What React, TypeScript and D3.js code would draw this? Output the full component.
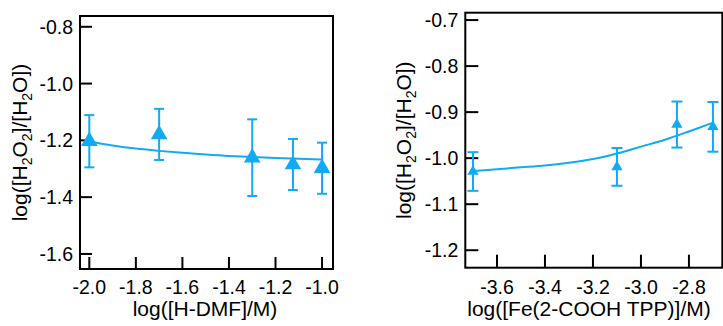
import React from "react";
import * as d3 from "d3";

// Left panel data
const leftX = [-2.0, -1.7, -1.3, -1.125, -1.0];
const leftY = [-1.203, -1.179, -1.261, -1.285, -1.298];
const leftErr = [0.092, 0.09, 0.135, 0.09, 0.09];
const leftFitX = [-2.0, -1.9, -1.8, -1.7, -1.6, -1.5, -1.4, -1.3, -1.2, -1.1, -1.0];
const leftFitY = [-1.204, -1.218, -1.229, -1.237, -1.244, -1.25, -1.255, -1.258, -1.262, -1.265, -1.267];
const leftXTicks = [-2.0, -1.8, -1.6, -1.4, -1.2, -1.0];
const leftYTicks = [-0.8, -1.0, -1.2, -1.4, -1.6];

// Right panel data
const rightX = [-3.7, -3.1, -2.85, -2.7];
const rightY = [-1.029, -1.019, -0.927, -0.932];
const rightErr = [0.042, 0.041, 0.05, 0.054];
const rightFitX = [-3.7, -3.6, -3.5, -3.4, -3.3, -3.2, -3.1, -3.0, -2.9, -2.8, -2.7];
const rightFitY = [-1.028, -1.024, -1.02, -1.016, -1.01, -1.002, -0.99, -0.975, -0.96, -0.942, -0.923];
const rightXTicks = [-3.6, -3.4, -3.2, -3.0, -2.8];
const rightYTicks = [-0.7, -0.8, -0.9, -1.0, -1.1, -1.2];

const BLUE = "#12aaf4";
const FONT = "'Liberation Sans', Arial, Helvetica, sans-serif";

type PanelProps = {
  xs: number[]; ys: number[]; errs: number[];
  fitX: number[]; fitY: number[];
  xTicks: number[]; yTicks: number[];
  xDomain: [number, number]; yDomain: [number, number];
  left: number; right: number; top: number; bottom: number;
  tickLen: number; markerSize: number; capW: number;
  xLabel: string; xLabelCenter: number; yLabelX: number;
};

function YLabel({ x, y }: { x: number; y: number }) {
  return (
    <text transform={`translate(${x},${y}) rotate(-90)`} textAnchor="middle" fontFamily={FONT} fontSize={21} fill="#000">
      <tspan>log([H</tspan>
      <tspan fontSize={14} dy={5}>2</tspan>
      <tspan dy={-5}>O</tspan>
      <tspan fontSize={14} dy={5}>2</tspan>
      <tspan dy={-5}>]/[H</tspan>
      <tspan fontSize={14} dy={5}>2</tspan>
      <tspan dy={-5}>O])</tspan>
    </text>
  );
}

function Panel(p: PanelProps) {
  const x = d3.scaleLinear().domain(p.xDomain).range([p.left, p.right]);
  const y = d3.scaleLinear().domain(p.yDomain).range([p.bottom, p.top]);
  const line = d3.line<number>().x((_, i) => x(p.fitX[i])).y((d) => y(d)).curve(d3.curveMonotoneX);
  const tri = d3.symbol(d3.symbolTriangle, p.markerSize)() as string;
  const fmt = d3.format(".1f");
  const lab = (v: number) => fmt(v).replace("−", "-");
  return (
    <g>
      {p.yTicks.map((t) => (
        <g key={"y" + t}>
          <line x1={p.left} x2={p.left + p.tickLen} y1={y(t)} y2={y(t)} stroke="#000" strokeWidth={2} />
          <text x={p.left - 7} y={y(t)} dy="0.36em" textAnchor="end" fontFamily={FONT} fontSize={19.5}>{lab(t)}</text>
        </g>
      ))}
      {p.xTicks.map((t) => (
        <g key={"x" + t}>
          <line x1={x(t)} x2={x(t)} y1={p.bottom} y2={p.bottom - p.tickLen} stroke="#000" strokeWidth={2} />
          <text x={x(t)} y={294} textAnchor="middle" fontFamily={FONT} fontSize={19.5}>{lab(t)}</text>
        </g>
      ))}
      <path d={line(p.fitY) || ""} fill="none" stroke={BLUE} strokeWidth={2} />
      {p.xs.map((xv, i) => {
        const cx = x(xv);
        const y0 = y(p.ys[i] + p.errs[i]);
        const y1 = y(p.ys[i] - p.errs[i]);
        return (
          <g key={"p" + i}>
            <line x1={cx} x2={cx} y1={y0} y2={y1} stroke={BLUE} strokeWidth={2} />
            <line x1={cx - p.capW / 2} x2={cx + p.capW / 2} y1={y0} y2={y0} stroke={BLUE} strokeWidth={2} />
            <line x1={cx - p.capW / 2} x2={cx + p.capW / 2} y1={y1} y2={y1} stroke={BLUE} strokeWidth={2} />
            <path d={tri} transform={`translate(${cx},${y(p.ys[i])})`} fill={BLUE} />
          </g>
        );
      })}
      <rect x={p.left} y={p.top} width={p.right - p.left} height={p.bottom - p.top} fill="none" stroke="#000" strokeWidth={2} />
      <text x={p.xLabelCenter} y={316} textAnchor="middle" fontFamily={FONT} fontSize={21}>{p.xLabel}</text>
      <YLabel x={p.yLabelX} y={(p.top + p.bottom) / 2} />
    </g>
  );
}

export default function App() {
  return (
    <svg width={723} height={326} style={{ position: "absolute", left: 0, top: 0, background: "#fff" }}>
      <Panel xs={leftX} ys={leftY} errs={leftErr} fitX={leftFitX} fitY={leftFitY}
        xTicks={leftXTicks} yTicks={leftYTicks} xDomain={[-2.04, -0.953]} yDomain={[-1.653, -0.762]}
        left={80} right={333} top={16} bottom={269} tickLen={12} markerSize={120} capW={10}
        xLabel="log([H-DMF]/M)" xLabelCenter={205} yLabelX={27} />
      <Panel xs={rightX} ys={rightY} errs={rightErr} fitX={rightFitX} fitY={rightFitY}
        xTicks={rightXTicks} yTicks={rightYTicks} xDomain={[-3.732, -2.661]} yDomain={[-1.238, -0.684]}
        left={465.3} right={722.3} top={12.7} bottom={267.7} tickLen={13} markerSize={55} capW={11}
        xLabel="log([Fe(2-COOH TPP)]/M)" xLabelCenter={589} yLabelX={411} />
    </svg>
  );
}
